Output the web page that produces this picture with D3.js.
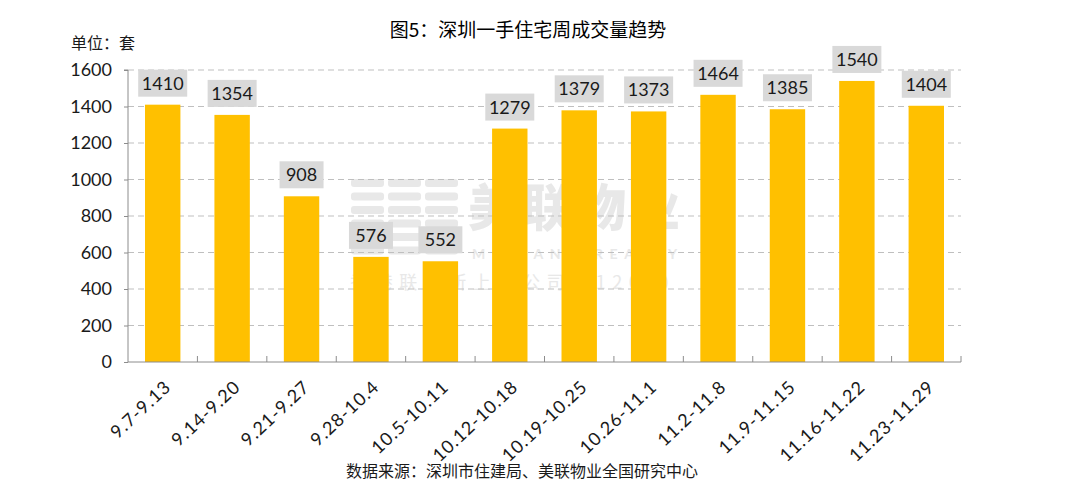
<!DOCTYPE html>
<html><head><meta charset="utf-8">
<script src="https://cdn.jsdelivr.net/npm/d3@7"></script>
<style>
body{margin:0;background:#fff;}
svg{display:block;font-family:"Lato","Noto Sans CJK SC",sans-serif;}
</style></head><body>
<svg id="c" width="1080" height="493"></svg>
<script>
const categories = ["9.7-9.13","9.14-9.20","9.21-9.27","9.28-10.4","10.5-10.11","10.12-10.18","10.19-10.25","10.26-11.1","11.2-11.8","11.9-11.15","11.16-11.22","11.23-11.29"];
const values = [1410,1354,908,576,552,1279,1379,1373,1464,1385,1540,1404];
const yTicks = [0,200,400,600,800,1000,1200,1400,1600];
const title = "图5：深圳一手住宅周成交量趋势";
const unitLabel = "单位：套";
const source = "数据来源：深圳市住建局、美联物业全国研究中心";

const svg = d3.select("#c");
const M = {left:128, right:961, top:70, bottom:362};
const x = d3.scaleBand().domain(categories).range([M.left, M.right]);
const y = d3.scaleLinear().domain([0,1600]).range([M.bottom, M.top]);
const cjk = '"Noto Sans CJK SC",sans-serif';
const num = '"Lato","Noto Sans",sans-serif';

// faint watermark
const wm = svg.append("g").attr("fill","#e8e8e8").attr("font-family",cjk);
for (let c=0;c<3;c++) for (let r=0;r<6;r++)
  wm.append("rect").attr("x",351+c*37).attr("y",179+r*13.5).attr("width",33).attr("height",8).attr("rx",3);
wm.append("text").attr("x",468).attr("y",226).attr("font-size",50).attr("font-weight",900).attr("textLength",212).text("美联物业");
wm.append("text").attr("x",472).attr("y",259).attr("font-size",14).attr("font-weight",700).attr("font-family",num).attr("textLength",205).text("MIDLAND REALTY");
wm.append("text").attr("x",350).attr("y",289).attr("font-size",18).attr("textLength",330).text("香港联交所上市公司（1200）");

// gridlines
svg.append("g").selectAll("line").data(yTicks.filter(d=>d>0)).join("line")
  .attr("x1",M.left).attr("x2",M.right).attr("y1",d=>y(d)).attr("y2",d=>y(d))
  .attr("stroke","#bfbfbf").attr("stroke-width",1).attr("stroke-dasharray","6,4");

// bars
const bw = x.bandwidth()*0.51;
svg.append("g").selectAll("rect").data(values).join("rect")
  .attr("x",(d,i)=>x(categories[i])+x.bandwidth()/2-bw/2)
  .attr("width",bw)
  .attr("y",d=>y(d)).attr("height",d=>M.bottom-y(d))
  .attr("fill","#FFC000");

// y axis
const ya = svg.append("g").attr("transform",`translate(${M.left},0)`)
  .call(d3.axisLeft(y).tickValues(yTicks).tickSize(4).tickPadding(12).tickFormat(d3.format("d")));
ya.select(".domain").attr("stroke","#8c8c8c").attr("d",`M-4,${M.top}H0V${M.bottom}`);
ya.selectAll(".tick line").attr("stroke","#8c8c8c");
ya.selectAll("text").attr("font-size",18).attr("fill","#1a1a1a").attr("font-family",num);

// x axis
const xa = svg.append("g");
xa.append("line").attr("x1",M.left).attr("x2",M.right).attr("y1",M.bottom).attr("y2",M.bottom).attr("stroke","#8c8c8c");
const bounds = categories.map(c=>x(c)).concat([M.right]).slice(1);
xa.selectAll("line.t").data(bounds).join("line").attr("class","t")
  .attr("x1",d=>d).attr("x2",d=>d).attr("y1",M.bottom).attr("y2",M.bottom-6).attr("stroke","#8c8c8c");
xa.selectAll("text").data(categories).join("text")
  .attr("transform",d=>`translate(${x(d)+x.bandwidth()/2+5},${M.bottom+22}) rotate(-43)`)
  .attr("text-anchor","end").attr("dy","0.35em")
  .attr("font-size",18).attr("letter-spacing",0.9).attr("fill","#1a1a1a").attr("font-family",num).text(d=>d);

// value labels
const lg = svg.append("g");
values.forEach((v,i)=>{
  const cx = x(categories[i])+x.bandwidth()/2;
  const by = y(v)-8;
  const t = String(v);
  const w = t.length===4?49:44;
  lg.append("rect").attr("x",cx-w/2).attr("y",by-27).attr("width",w).attr("height",27).attr("fill","#d9d9d9");
  lg.append("text").attr("x",cx).attr("y",by-13.5).attr("dy","0.36em").attr("text-anchor","middle")
    .attr("font-size",18).attr("fill","#1a1a1a").attr("font-family",num).text(t);
});

// titles
svg.append("text").attr("x",528).attr("y",37).attr("text-anchor","middle").attr("font-family",cjk)
  .attr("font-size",19).attr("font-weight",400).attr("fill","#000").text(title);
svg.append("text").attr("x",71).attr("y",49).attr("font-family",cjk)
  .attr("font-size",16).attr("fill","#1a1a1a").text(unitLabel);
svg.append("text").attr("x",522).attr("y",477).attr("text-anchor","middle").attr("font-family",cjk)
  .attr("font-size",16).attr("fill","#1a1a1a").text(source);
</script></body></html>
